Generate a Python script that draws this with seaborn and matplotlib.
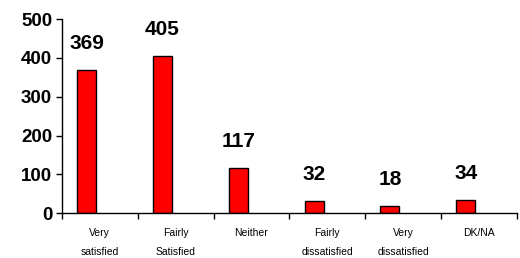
import pandas as pd
import numpy as np
import matplotlib
matplotlib.use('Agg')
import matplotlib.pyplot as plt
import seaborn as sns

categories = ['Very\nsatisfied', 'Fairly\nSatisfied', 'Neither', 'Fairly\ndissatisfied',
              'Very\ndissatisfied', 'DK/NA']
counts = [369, 405, 117, 32, 18, 34]

sns.set_style('white')
plt.rcParams['font.family'] = ['Liberation Sans', 'DejaVu Sans']
plt.rcParams['text.color'] = 'black'
plt.rcParams['xtick.color'] = 'black'
plt.rcParams['ytick.color'] = 'black'

df = pd.DataFrame({'category': categories, 'count': counts})

fig = plt.figure(figsize=(5.2, 2.58), dpi=100)
ax = fig.add_axes([0.119, 0.174, 0.875, 0.752])

sns.barplot(data=df, x='category', y='count', color='#FF0000', width=0.25,
            edgecolor='black', linewidth=1.0, saturation=1, ax=ax)

# bars sit left of the category centre, like the original
for p in ax.patches:
    p.set_x(p.get_x() - 0.175)

for i, v in enumerate(counts):
    ax.annotate(str(v), (i - 0.175, v), xytext=(0, 19), textcoords='offset points',
                ha='center', va='center', fontsize=15, fontweight='bold', color='black')

ax.set_xlim(-0.5, 5.5)
ax.set_ylim(0, 500)
ax.set_yticks([0, 100, 200, 300, 400, 500])
ax.set_xlabel('')
ax.set_ylabel('')

for s in ['top', 'right']:
    ax.spines[s].set_visible(False)
for s in ['left', 'bottom']:
    ax.spines[s].set_color('black')
    ax.spines[s].set_linewidth(1.0)

ax.set_xticks(np.arange(-0.5, 6, 1), minor=True)
ax.tick_params(axis='x', which='major', length=0, labelsize=7.5, pad=11,
               labelcolor='black')
ax.tick_params(axis='x', which='minor', length=4, width=1, direction='out', color='black', bottom=True)
ax.tick_params(axis='y', length=4, width=1, direction='out', color='black', left=True,
               labelsize=13.5, pad=3, labelcolor='black')
for t in ax.get_yticklabels():
    t.set_fontweight('bold')
for t in ax.get_xticklabels():
    t.set_linespacing(2.1)

fig.savefig('out.png', dpi=100)
